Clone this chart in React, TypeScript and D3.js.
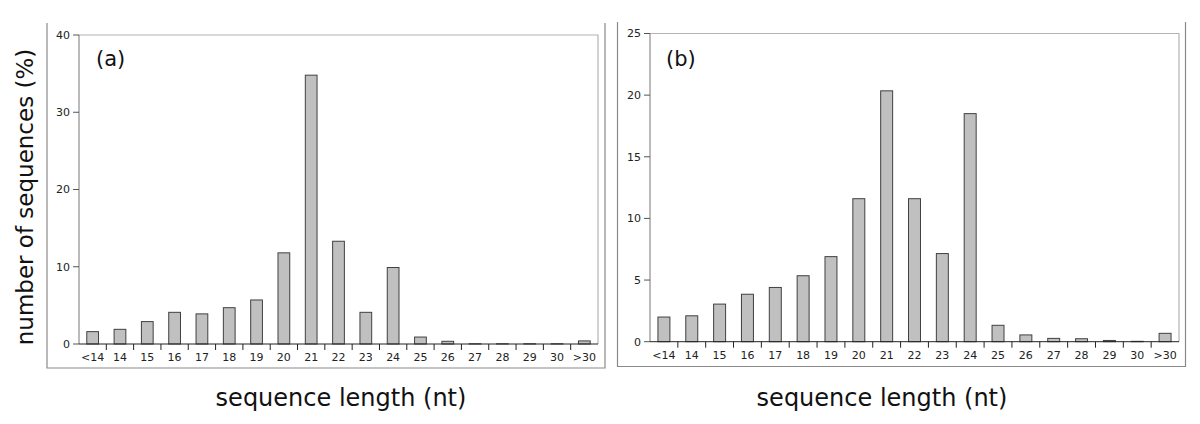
import React from "react";
import * as d3 from "d3";

const categories = ["<14", "14", "15", "16", "17", "18", "19", "20", "21", "22", "23", "24", "25", "26", "27", "28", "29", "30", ">30"];
const valuesA = [1.6, 1.9, 2.9, 4.1, 3.9, 4.7, 5.7, 11.8, 34.8, 13.3, 4.1, 9.9, 0.9, 0.35, 0.03, 0.03, 0.03, 0.03, 0.4];
const valuesB = [2.0, 2.1, 3.05, 3.85, 4.4, 5.35, 6.9, 11.6, 20.35, 11.6, 7.15, 18.5, 1.33, 0.55, 0.27, 0.24, 0.1, 0.03, 0.68];
const ticksA = [0, 10, 20, 30, 40];
const ticksB = [0, 5, 10, 15, 20, 25];
const yMaxA = 40;
const yMaxB = 25;
const xTitle = "sequence length (nt)";
const yTitle = "number of  sequences (%)";

const FONT = "DejaVu Sans, sans-serif";

type PanelProps = {
  values: number[];
  ticks: number[];
  yMax: number;
  tag: string;
  frame: { left: number; right: number; top: number; bottom: number };
  plot: { left: number; right: number; top: number; bottom: number };
  tagPos: [number, number];
  titleX: number;
};

function Panel({ values, ticks, yMax, tag, frame, plot, tagPos, titleX }: PanelProps) {
  const x = d3.scaleBand<string>().domain(categories).range([plot.left, plot.right]).padding(0);
  const y = d3.scaleLinear().domain([0, yMax]).range([plot.bottom, plot.top]);
  const bw = x.bandwidth();
  const barW = bw * 0.43;
  const boundaries = d3.range(categories.length + 1).map((i) => plot.left + i * bw);
  return (
    <g>
      <path
        d={`M${frame.left},${frame.top}V${frame.bottom}H${frame.right}V${frame.top}`}
        fill="none"
        stroke="#8a8a8a"
        strokeWidth={1.2}
      />
      <path
        d={`M${plot.left},${plot.top}H${plot.right}V${plot.bottom}`}
        fill="none"
        stroke="#b4b4b4"
        strokeWidth={1.2}
      />
      {values.map((v, i) => (
        <rect
          key={i}
          x={(x(categories[i]) as number) + (bw - barW) / 2}
          y={y(v)}
          width={barW}
          height={plot.bottom - y(v)}
          fill="#c0c0c0"
          stroke="#404040"
          strokeWidth={1}
        />
      ))}
      <line x1={plot.left} x2={plot.left} y1={plot.top} y2={plot.bottom} stroke="#777" strokeWidth={1} />
      {ticks.map((t) => (
        <g key={t}>
          <line x1={plot.left - 6} x2={plot.left} y1={y(t)} y2={y(t)} stroke="#555" strokeWidth={1} />
          <text
            x={plot.left - 9}
            y={y(t)}
            dy="0.35em"
            textAnchor="end"
            fontFamily={FONT}
            fontSize={11}
            fill="#222"
          >
            {t}
          </text>
        </g>
      ))}
      <line x1={plot.left} x2={plot.right} y1={plot.bottom} y2={plot.bottom} stroke="#222" strokeWidth={1} />
      {boundaries.slice(1, -1).map((bx, i) => (
        <line key={i} x1={bx} x2={bx} y1={plot.bottom} y2={plot.bottom + 6} stroke="#222" strokeWidth={1} />
      ))}
      {categories.map((c) => (
        <text
          key={c}
          x={(x(c) as number) + bw / 2}
          y={plot.bottom + 17}
          textAnchor="middle"
          fontFamily={FONT}
          fontSize={11}
          fill="#222"
        >
          {c}
        </text>
      ))}
      <text x={tagPos[0]} y={tagPos[1]} fontFamily={FONT} fontSize={21} fill="#111">
        {tag}
      </text>
      <text x={titleX} y={406} textAnchor="middle" fontFamily={FONT} fontSize={24} fill="#111">
        {xTitle}
      </text>
    </g>
  );
}

export default function App() {
  return (
    <svg
      width={1200}
      height={424}
      style={{ position: "absolute", left: 0, top: 0, background: "#fff" }}
    >
      <rect width={1200} height={424} fill="#fff" />
      <Panel
        values={valuesA}
        ticks={ticksA}
        yMax={yMaxA}
        tag="(a)"
        frame={{ left: 47, right: 605, top: 23, bottom: 368 }}
        plot={{ left: 79, right: 598, top: 35, bottom: 344 }}
        tagPos={[96, 66]}
        titleX={341}
      />
      <Panel
        values={valuesB}
        ticks={ticksB}
        yMax={yMaxB}
        tag="(b)"
        frame={{ left: 617.5, right: 1185.5, top: 22, bottom: 366.5 }}
        plot={{ left: 650, right: 1179, top: 33.5, bottom: 341.7 }}
        tagPos={[666, 66]}
        titleX={882}
      />
      <text
        transform="translate(33,197) rotate(-90)"
        textAnchor="middle"
        fontFamily={FONT}
        fontSize={23}
        fill="#111"
      >
        {yTitle}
      </text>
    </svg>
  );
}
